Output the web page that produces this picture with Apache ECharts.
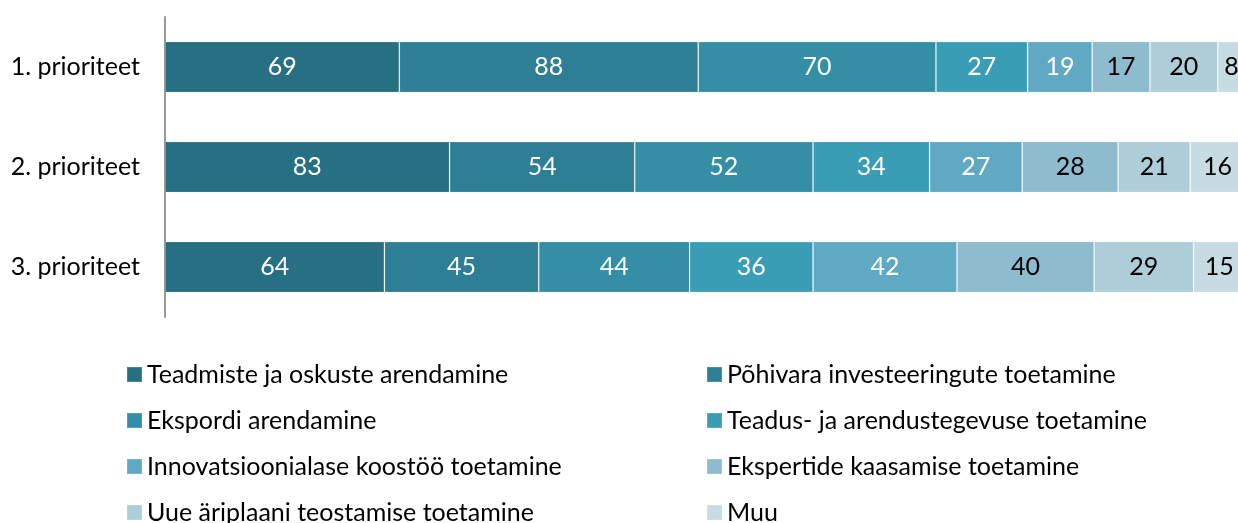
<!DOCTYPE html>
<html>
<head>
<meta charset="utf-8">
<script src="https://cdn.jsdelivr.net/npm/echarts@6/dist/echarts.min.js"></script>
<style>
  html, body { margin: 0; padding: 0; background: #fff; }
  #chart { width: 1238px; height: 523px; }
</style>
</head>
<body>
<div id="chart"></div>
<script>
// kategooriad
const categories = ['1. prioriteet', '2. prioriteet', '3. prioriteet'];
const seriesNames = [
  'Teadmiste ja oskuste arendamine',
  'Põhivara investeeringute toetamine',
  'Ekspordi arendamine',
  'Teadus- ja arendustegevuse toetamine',
  'Innovatsioonialase koostöö toetamine',
  'Ekspertide kaasamise toetamine',
  'Uue äriplaani teostamise toetamine',
  'Muu'
];
const teadmised = [69, 83, 64];
const pohivara = [88, 54, 45];
const eksport = [70, 52, 44];
const arendus = [27, 34, 36];
const innovatsioon = [19, 27, 42];
const eksperdid = [17, 28, 40];
const ariplaan = [20, 21, 29];
const muu = [8, 16, 15];
const allValues = [teadmised, pohivara, eksport, arendus, innovatsioon, eksperdid, ariplaan, muu];

const colors = ['#276f82', '#2e7f96', '#348fa6', '#3a9db6', '#5fa9c3', '#8ebbcd', '#adcdd9', '#c7dbe3'];
const labelColors = ['#fff', '#fff', '#fff', '#fff', '#fff', '#000', '#000', '#000'];
const fontName = 'Lato, "Noto Sans", sans-serif';

// 100% tulp: iga rea summa
let totals = [];
for (let j = 0; j < categories.length; j++) {
  let s = 0;
  for (let i = 0; i < allValues.length; i++) s += allValues[i][j];
  totals.push(s);
}

const chart = echarts.init(document.getElementById('chart'));

let series = [];
for (let i = 0; i < seriesNames.length; i++) {
  series.push({
    name: seriesNames[i],
    type: 'bar',
    stack: 'kokku',
    barCategoryGap: '49%',
    data: allValues[i].map((v, j) => v / totals[j] * 100),
    itemStyle: {
      color: colors[i],
      borderColor: 'rgba(255,255,255,0.15)',
      borderWidth: 1
    },
    label: {
      show: true,
      position: 'inside',
      color: labelColors[i],
      fontSize: 25,
      fontFamily: fontName,
      formatter: (p) => allValues[p.seriesIndex][p.dataIndex]
    }
  });
}

const legendBase = {
  orient: 'vertical',
  padding: 0,
  itemWidth: 15,
  itemHeight: 15,
  itemGap: 21,
  height: 220,
  icon: 'rect',
  textStyle: { fontSize: 25, color: '#000', fontFamily: fontName }
};

chart.setOption({
  animation: false,
  color: colors,
  grid: { left: 165, top: 17, height: 300, right: -7, outerBoundsMode: 'none' },
  xAxis: {
    type: 'value',
    min: 0,
    max: 100,
    show: false
  },
  yAxis: {
    type: 'category',
    data: categories,
    inverse: true,
    axisLine: { show: true, lineStyle: { color: '#999', width: 2 } },
    axisTick: { show: false },
    axisLabel: { fontSize: 25, color: '#000', fontFamily: fontName, margin: 25 }
  },
  legend: [
    Object.assign({}, legendBase, {
      left: 126, top: 362,
      data: [seriesNames[0], seriesNames[2], seriesNames[4], seriesNames[6]]
    }),
    Object.assign({}, legendBase, {
      left: 706, top: 362,
      data: [seriesNames[1], seriesNames[3], seriesNames[5], seriesNames[7]]
    })
  ],
  series: series
});
</script>
</body>
</html>
